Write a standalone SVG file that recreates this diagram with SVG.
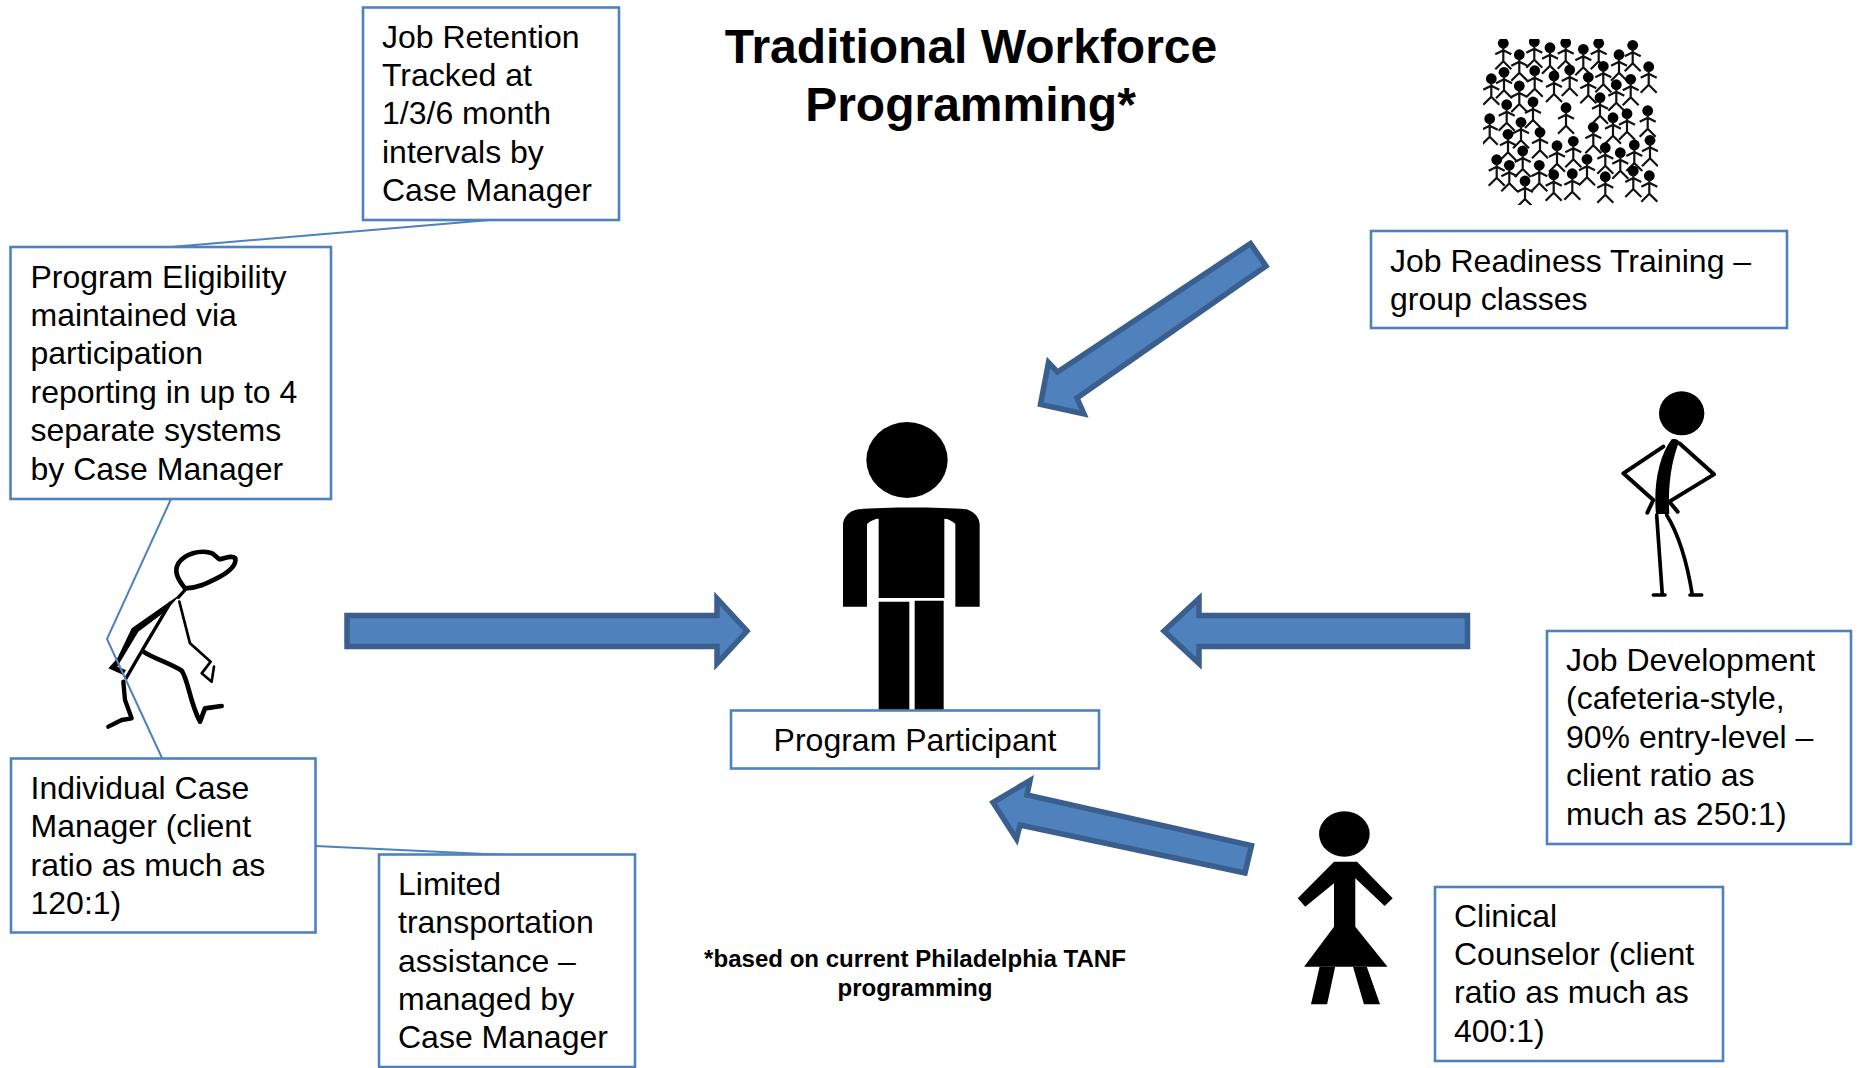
<svg xmlns="http://www.w3.org/2000/svg" width="1862" height="1068" viewBox="0 0 1862 1068">
<style>
text{font-family:"Liberation Sans",Arial,Helvetica,sans-serif;fill:#000}
.t{font-size:32px}
.h{font-size:48px;font-weight:bold;text-anchor:middle}
.f{font-size:24.05px;font-weight:bold;text-anchor:middle}
.b{fill:#fff;stroke:#4f81bd;stroke-width:2.6}
.c{fill:none;stroke:#4f81bd;stroke-width:2}
.a{fill:#4f81bd;stroke:#3a5f8f;stroke-width:5.5;stroke-linejoin:miter}
.s{fill:none;stroke:#000;stroke-linecap:round;stroke-linejoin:round}
</style>
<defs>
<g id="p">
<circle cx="0" cy="0" r="5.4" fill="#000"/>
<path d="M0 3V18M-8 11L0 7L8 11M-8 26L0 18L8 26" fill="none" stroke="#111" stroke-width="2.2"/>
</g>
<clipPath id="cr"><rect x="1483" y="39" width="175" height="166"/></clipPath>
</defs>
<rect width="1862" height="1068" fill="#fff"/>
<g id="manager-figure" transform="translate(90 540) scale(.33333)">
<path class="s" stroke-width="14" d="M285 145C265 120 250 95 265 70C285 40 330 30 360 38C375 40 380 55 390 58C405 55 425 45 436 55C440 80 410 100 380 115C350 130 320 145 285 145Z"/>
<path class="s" stroke-width="10" d="M285 150L265 172"/>
<path fill="#000" d="M275 160L125 265L82 355L55 385L100 405L108 390L82 380L100 350L145 275L225 215Z"/>
<path class="s" stroke-width="10" d="M240 190L160 325L108 415"/>
<path class="s" stroke-width="8" d="M268 185L300 310L362 365L335 400L365 425L372 380"/>
<path class="s" stroke-width="14" d="M160 335C190 355 240 370 275 392C295 420 300 490 330 545L345 505L395 498"/>
<path class="s" stroke-width="13" d="M100 425L105 480L125 535L95 540L55 560"/>
</g>
<g id="connectors">
<path class="c" d="M490 220L171 247"/>
<path class="c" d="M171 499L107 639L162 758"/>
<path class="c" d="M315.500 846L506 855"/>
</g>
<g id="arrows">
<path class="a" d="M347 615.500H717V598.500L747 631L717 663.500V646.500H347Z"/>
<path class="a" d="M1467.500 615.500H1199V598.500L1164 631L1199 663.500V646.500H1467.500Z"/>
<path class="a" d="M1250.500 243.500L1266 266L1077 398L1084 414L1040.500 404.500L1048.500 362.500L1057.500 372Z"/>
<path class="a" d="M1251.500 845.500L1245 873L1020 825L1016.500 839L993 802.500L1030 780.500L1027 795Z"/>
</g>
<g id="title">
<text class="h" x="971" y="63">Traditional Workforce</text>
<text class="h" x="970.500" y="121">Programming*</text>
</g>
<g id="crowd" clip-path="url(#cr)">
<use href="#p" x="1503.3" y="43.3"/><use href="#p" x="1534.3" y="41.7"/><use href="#p" x="1550" y="47.7"/><use href="#p" x="1565.7" y="42.7"/><use href="#p" x="1583.3" y="49.3"/><use href="#p" x="1598.7" y="43.3"/><use href="#p" x="1619" y="54.7"/><use href="#p" x="1632.7" y="45.3"/><use href="#p" x="1648.7" y="66.7"/>
<use href="#p" x="1519.3" y="54.7"/><use href="#p" x="1504" y="72.3"/><use href="#p" x="1534.7" y="70.7"/><use href="#p" x="1554" y="76"/><use href="#p" x="1569.7" y="70"/><use href="#p" x="1588.3" y="77.3"/><use href="#p" x="1603.3" y="66.3"/><use href="#p" x="1616.3" y="84.7"/><use href="#p" x="1630.7" y="79.3"/>
<use href="#p" x="1491.3" y="78.7"/><use href="#p" x="1519.3" y="86"/><use href="#p" x="1533" y="102"/><use href="#p" x="1506.7" y="104.7"/><use href="#p" x="1566" y="107.7"/><use href="#p" x="1600" y="97.7"/><use href="#p" x="1613" y="117.7"/><use href="#p" x="1627" y="113.7"/><use href="#p" x="1647.7" y="110.7"/>
<use href="#p" x="1489.7" y="118.7"/><use href="#p" x="1521" y="122.3"/><use href="#p" x="1540" y="132.3"/><use href="#p" x="1508" y="134.3"/><use href="#p" x="1593.3" y="127.3"/><use href="#p" x="1557" y="145.7"/><use href="#p" x="1573.3" y="141.3"/><use href="#p" x="1605.3" y="147.7"/><use href="#p" x="1634.3" y="145"/><use href="#p" x="1650" y="140.3"/>
<use href="#p" x="1522.7" y="151"/><use href="#p" x="1496.7" y="159.7"/><use href="#p" x="1509.3" y="165.3"/><use href="#p" x="1539.3" y="165.3"/><use href="#p" x="1553.7" y="174.7"/><use href="#p" x="1572.3" y="173.7"/><use href="#p" x="1587" y="159.3"/><use href="#p" x="1620.3" y="152.7"/><use href="#p" x="1633.3" y="171"/><use href="#p" x="1605.3" y="176.7"/><use href="#p" x="1649.3" y="175.7"/><use href="#p" x="1525" y="181"/>
</g>
<g id="participant-figure" transform="translate(680 400) scale(.33333)">
<ellipse cx="681" cy="180" rx="122" ry="114" fill="#000"/>
<path fill="#000" d="M489 620V375C489 350 510 332 535 328C620 321 770 321 860 328C880 335 899 350 899 375V620H826V372C815 362 805 356 793 356V594H596V356C585 356 572 362 561 372V620Z"/>
<path fill="#000" d="M596 605H688V935H596ZM704 602H791V935H704Z"/>
</g>
<g id="case-figure" transform="translate(1610 380) scale(.33333)">
<ellipse cx="215" cy="100" rx="68" ry="66" fill="#000"/>
<path fill="#000" d="M185 178C195 175 205 178 207 185C190 230 172 300 178 402H138C130 320 145 230 185 178Z"/>
<path class="s" stroke-width="12" d="M160 200L40 280L130 360L112 398M208 190L312 283L178 365L203 395"/>
<path class="s" stroke-width="11" d="M140 405L157 645M130 645H165M170 405C210 470 235 570 247 645M240 645H275"/>
</g>
<g id="woman-figure" transform="translate(960 620) scale(.5754 .33333)">
<ellipse cx="668" cy="642" rx="44" ry="68" fill="#000"/>
<path fill="#000" d="M650 725H690L752 835L738 858L687 775V920L743 1040H598L650 920V790L600 860L587 835Z"/>
<path fill="#000" d="M625 1040H652L638 1153H610ZM683 1040H707L730 1153H702Z"/>
</g>
<g id="job-retention"><rect class="b" x="363" y="7.500" width="256" height="212.500"/>
<text class="t" x="382" y="47.500">Job Retention</text><text class="t" x="382" y="85.800">Tracked at</text><text class="t" x="382" y="124.200">1/3/6 month</text><text class="t" x="382" y="162.600">intervals by</text><text class="t" x="382" y="201">Case Manager</text></g>
<g id="program-eligibility"><rect class="b" x="10.500" y="247" width="320.500" height="252"/>
<text class="t" x="30.500" y="287.500">Program Eligibility</text><text class="t" x="30.500" y="325.900">maintained via</text><text class="t" x="30.500" y="364.300">participation</text><text class="t" x="30.500" y="402.700">reporting in up to 4</text><text class="t" x="30.500" y="441.100">separate systems</text><text class="t" x="30.500" y="479.500">by Case Manager</text></g>
<g id="case-manager"><rect class="b" x="11" y="758.500" width="304.500" height="174"/>
<text class="t" x="30.500" y="798.800">Individual Case</text><text class="t" x="30.500" y="837.200">Manager (client</text><text class="t" x="30.500" y="875.600">ratio as much as</text><text class="t" x="30.500" y="914">120:1)</text></g>
<g id="transportation"><rect class="b" x="379" y="854.500" width="256" height="212.500"/>
<text class="t" x="398" y="894.800">Limited</text><text class="t" x="398" y="933.200">transportation</text><text class="t" x="398" y="971.600">assistance –</text><text class="t" x="398" y="1010">managed by</text><text class="t" x="398" y="1048.400">Case Manager</text></g>
<g id="job-readiness"><rect class="b" x="1371" y="231" width="416" height="97"/>
<text class="t" x="1390" y="271.500">Job Readiness Training –</text><text class="t" x="1390" y="309.900">group classes</text></g>
<g id="job-development"><rect class="b" x="1547" y="631" width="304" height="213"/>
<text class="t" x="1566" y="671">Job Development</text><text class="t" x="1566" y="709.400">(cafeteria-style,</text><text class="t" x="1566" y="747.800">90% entry-level –</text><text class="t" x="1566" y="786.200">client ratio as</text><text class="t" x="1566" y="824.600">much as 250:1)</text></g>
<g id="clinical-counselor"><rect class="b" x="1435" y="887" width="288" height="174"/>
<text class="t" x="1454" y="926.500">Clinical</text><text class="t" x="1454" y="964.900">Counselor (client</text><text class="t" x="1454" y="1003.300">ratio as much as</text><text class="t" x="1454" y="1041.700">400:1)</text></g>
<g id="program-participant"><rect class="b" x="731" y="710.500" width="368" height="58"/>
<text class="t" x="915" y="751" text-anchor="middle">Program Participant</text></g>
<g id="footnote">
<text class="f" x="915" y="967">*based on current Philadelphia TANF</text>
<text class="f" x="915" y="996">programming</text>
</g>
</svg>
